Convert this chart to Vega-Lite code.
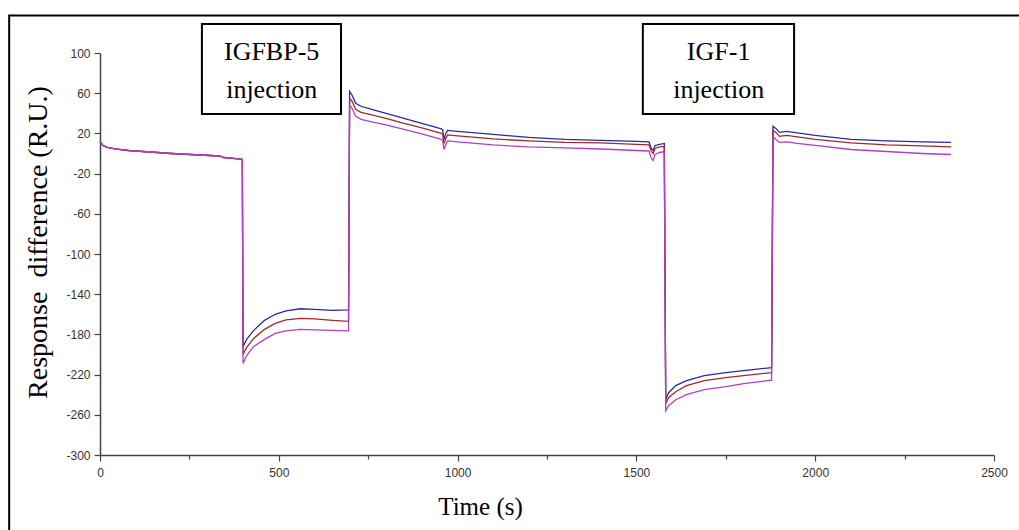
{
  "$schema": "https://vega.github.io/schema/vega-lite/v6.json",
  "width": 894,
  "height": 402,
  "autosize": {"type": "none"},
  "padding": {"left": 100, "top": 53, "right": 25, "bottom": 75},
  "background": "white",
  "view": {"stroke": null},
  "datasets": {
    "curves": [
      {"s": "a", "t": 0, "v": 12}, {"s": "a", "t": 8, "v": 8}, {"s": "a", "t": 20, "v": 6}, {"s": "a", "t": 42, "v": 4.5}, {"s": "a", "t": 80, "v": 3}, {"s": "a", "t": 140, "v": 1.5}, {"s": "a", "t": 200, "v": 0}, {"s": "a", "t": 280, "v": -1.5}, {"s": "a", "t": 335, "v": -2.5}, {"s": "a", "t": 345, "v": -4}, {"s": "a", "t": 395, "v": -5.5}, {"s": "a", "t": 398, "v": -6},
      {"s": "a", "t": 400, "v": -192}, {"s": "a", "t": 410, "v": -185}, {"s": "a", "t": 430, "v": -176}, {"s": "a", "t": 460, "v": -166}, {"s": "a", "t": 490, "v": -160}, {"s": "a", "t": 520, "v": -156.5}, {"s": "a", "t": 560, "v": -154.5}, {"s": "a", "t": 600, "v": -155}, {"s": "a", "t": 650, "v": -156}, {"s": "a", "t": 695, "v": -155.5},
      {"s": "a", "t": 698, "v": 62}, {"s": "a", "t": 705, "v": 58}, {"s": "a", "t": 715, "v": 50}, {"s": "a", "t": 730, "v": 47}, {"s": "a", "t": 760, "v": 44}, {"s": "a", "t": 800, "v": 40}, {"s": "a", "t": 850, "v": 35}, {"s": "a", "t": 900, "v": 30}, {"s": "a", "t": 950, "v": 25}, {"s": "a", "t": 958, "v": 24}, {"s": "a", "t": 962, "v": 14}, {"s": "a", "t": 967, "v": 20}, {"s": "a", "t": 972, "v": 23}, {"s": "a", "t": 1000, "v": 22}, {"s": "a", "t": 1050, "v": 20.5}, {"s": "a", "t": 1100, "v": 19}, {"s": "a", "t": 1200, "v": 16}, {"s": "a", "t": 1300, "v": 14}, {"s": "a", "t": 1400, "v": 13}, {"s": "a", "t": 1500, "v": 12}, {"s": "a", "t": 1535, "v": 11.5}, {"s": "a", "t": 1542, "v": 5}, {"s": "a", "t": 1547, "v": 3}, {"s": "a", "t": 1552, "v": 8}, {"s": "a", "t": 1565, "v": 9}, {"s": "a", "t": 1578, "v": 10},
      {"s": "a", "t": 1582, "v": -245}, {"s": "a", "t": 1590, "v": -238}, {"s": "a", "t": 1610, "v": -231}, {"s": "a", "t": 1640, "v": -226}, {"s": "a", "t": 1690, "v": -221}, {"s": "a", "t": 1750, "v": -218}, {"s": "a", "t": 1800, "v": -216}, {"s": "a", "t": 1878, "v": -213},
      {"s": "a", "t": 1882, "v": 27}, {"s": "a", "t": 1890, "v": 25}, {"s": "a", "t": 1900, "v": 21}, {"s": "a", "t": 1920, "v": 22}, {"s": "a", "t": 1950, "v": 20.5}, {"s": "a", "t": 2000, "v": 18}, {"s": "a", "t": 2100, "v": 14}, {"s": "a", "t": 2200, "v": 12.5}, {"s": "a", "t": 2300, "v": 11.5}, {"s": "a", "t": 2380, "v": 11},

      {"s": "b", "t": 0, "v": 12}, {"s": "b", "t": 8, "v": 8}, {"s": "b", "t": 20, "v": 6}, {"s": "b", "t": 42, "v": 4.5}, {"s": "b", "t": 80, "v": 3}, {"s": "b", "t": 140, "v": 1.5}, {"s": "b", "t": 200, "v": 0}, {"s": "b", "t": 280, "v": -1.5}, {"s": "b", "t": 335, "v": -2.5}, {"s": "b", "t": 345, "v": -4}, {"s": "b", "t": 395, "v": -5.5}, {"s": "b", "t": 398, "v": -6},
      {"s": "b", "t": 400, "v": -200}, {"s": "b", "t": 410, "v": -193}, {"s": "b", "t": 430, "v": -184}, {"s": "b", "t": 460, "v": -175}, {"s": "b", "t": 490, "v": -169}, {"s": "b", "t": 520, "v": -165.5}, {"s": "b", "t": 560, "v": -164}, {"s": "b", "t": 600, "v": -164.5}, {"s": "b", "t": 650, "v": -166}, {"s": "b", "t": 695, "v": -167},
      {"s": "b", "t": 698, "v": 55}, {"s": "b", "t": 705, "v": 52}, {"s": "b", "t": 715, "v": 44}, {"s": "b", "t": 730, "v": 41}, {"s": "b", "t": 760, "v": 38.5}, {"s": "b", "t": 800, "v": 35}, {"s": "b", "t": 850, "v": 30}, {"s": "b", "t": 900, "v": 25.5}, {"s": "b", "t": 950, "v": 20.5}, {"s": "b", "t": 958, "v": 19.5}, {"s": "b", "t": 962, "v": 10}, {"s": "b", "t": 967, "v": 15}, {"s": "b", "t": 972, "v": 18.5}, {"s": "b", "t": 1000, "v": 17.5}, {"s": "b", "t": 1050, "v": 16}, {"s": "b", "t": 1100, "v": 14.5}, {"s": "b", "t": 1200, "v": 12.5}, {"s": "b", "t": 1300, "v": 11}, {"s": "b", "t": 1400, "v": 10.5}, {"s": "b", "t": 1500, "v": 9}, {"s": "b", "t": 1535, "v": 8.5}, {"s": "b", "t": 1542, "v": 2}, {"s": "b", "t": 1547, "v": 0}, {"s": "b", "t": 1552, "v": 5}, {"s": "b", "t": 1565, "v": 6.5}, {"s": "b", "t": 1578, "v": 7},
      {"s": "b", "t": 1582, "v": -249}, {"s": "b", "t": 1590, "v": -243}, {"s": "b", "t": 1610, "v": -237}, {"s": "b", "t": 1640, "v": -231}, {"s": "b", "t": 1690, "v": -226}, {"s": "b", "t": 1750, "v": -223}, {"s": "b", "t": 1800, "v": -221}, {"s": "b", "t": 1878, "v": -218},
      {"s": "b", "t": 1882, "v": 23}, {"s": "b", "t": 1890, "v": 21}, {"s": "b", "t": 1900, "v": 17}, {"s": "b", "t": 1920, "v": 18}, {"s": "b", "t": 1950, "v": 16.5}, {"s": "b", "t": 2000, "v": 14}, {"s": "b", "t": 2100, "v": 10.5}, {"s": "b", "t": 2200, "v": 8.5}, {"s": "b", "t": 2300, "v": 7.5}, {"s": "b", "t": 2380, "v": 6.5},

      {"s": "c", "t": 0, "v": 12}, {"s": "c", "t": 8, "v": 8}, {"s": "c", "t": 20, "v": 6}, {"s": "c", "t": 42, "v": 4.5}, {"s": "c", "t": 80, "v": 3}, {"s": "c", "t": 140, "v": 1.5}, {"s": "c", "t": 200, "v": 0}, {"s": "c", "t": 280, "v": -1.5}, {"s": "c", "t": 335, "v": -2.5}, {"s": "c", "t": 345, "v": -4}, {"s": "c", "t": 395, "v": -5.5}, {"s": "c", "t": 398, "v": -6},
      {"s": "c", "t": 400, "v": -209}, {"s": "c", "t": 405, "v": -205}, {"s": "c", "t": 410, "v": -201}, {"s": "c", "t": 430, "v": -192}, {"s": "c", "t": 460, "v": -185}, {"s": "c", "t": 490, "v": -179}, {"s": "c", "t": 520, "v": -176.5}, {"s": "c", "t": 560, "v": -175}, {"s": "c", "t": 600, "v": -175.5}, {"s": "c", "t": 650, "v": -176}, {"s": "c", "t": 695, "v": -176.5},
      {"s": "c", "t": 698, "v": 48}, {"s": "c", "t": 705, "v": 45}, {"s": "c", "t": 715, "v": 37}, {"s": "c", "t": 730, "v": 34}, {"s": "c", "t": 760, "v": 31.5}, {"s": "c", "t": 800, "v": 28.5}, {"s": "c", "t": 850, "v": 24}, {"s": "c", "t": 900, "v": 19.5}, {"s": "c", "t": 950, "v": 14.5}, {"s": "c", "t": 958, "v": 13.5}, {"s": "c", "t": 962, "v": 4}, {"s": "c", "t": 967, "v": 9}, {"s": "c", "t": 972, "v": 12.5}, {"s": "c", "t": 1000, "v": 11.5}, {"s": "c", "t": 1050, "v": 10}, {"s": "c", "t": 1100, "v": 8.5}, {"s": "c", "t": 1200, "v": 6.5}, {"s": "c", "t": 1300, "v": 5.5}, {"s": "c", "t": 1400, "v": 4.5}, {"s": "c", "t": 1500, "v": 3}, {"s": "c", "t": 1535, "v": 2.5}, {"s": "c", "t": 1542, "v": -5}, {"s": "c", "t": 1547, "v": -7}, {"s": "c", "t": 1552, "v": -1}, {"s": "c", "t": 1565, "v": 1}, {"s": "c", "t": 1578, "v": 2},
      {"s": "c", "t": 1582, "v": -256}, {"s": "c", "t": 1590, "v": -251}, {"s": "c", "t": 1610, "v": -245}, {"s": "c", "t": 1640, "v": -240}, {"s": "c", "t": 1690, "v": -235}, {"s": "c", "t": 1750, "v": -232}, {"s": "c", "t": 1800, "v": -229}, {"s": "c", "t": 1878, "v": -225.5},
      {"s": "c", "t": 1882, "v": 17}, {"s": "c", "t": 1890, "v": 14}, {"s": "c", "t": 1900, "v": 11}, {"s": "c", "t": 1920, "v": 11.5}, {"s": "c", "t": 1950, "v": 10}, {"s": "c", "t": 2000, "v": 8}, {"s": "c", "t": 2100, "v": 4}, {"s": "c", "t": 2200, "v": 2}, {"s": "c", "t": 2300, "v": 0}, {"s": "c", "t": 2380, "v": -1}
    ],
    "frame": [{"x1": -254, "x2": 2600, "y1": 137.3, "y2": -390}],
    "boxes": [
      {"x1": 285, "x2": 674, "y1": 128.9, "y2": 39.3},
      {"x1": 1518, "x2": 1941, "y1": 128.9, "y2": 39.3}
    ],
    "labels": [
      {"x": 480, "y": 101, "label": "IGFBP-5"},
      {"x": 480, "y": 63, "label": "injection"},
      {"x": 1730, "y": 101, "label": "IGF-1"},
      {"x": 1730, "y": 63, "label": "injection"}
    ]
  },
  "layer": [
    {
      "data": {"name": "frame"},
      "mark": {"type": "rect", "fill": null, "stroke": "black", "strokeWidth": 2, "clip": false},
      "encoding": {
        "x": {"field": "x1", "type": "quantitative", "scale": {"domain": [0, 2500], "nice": false, "zero": false}},
        "x2": {"field": "x2"},
        "y": {"field": "y1", "type": "quantitative", "scale": {"domain": [-300, 100], "nice": false, "zero": false}},
        "y2": {"field": "y2"}
      }
    },
    {
      "data": {"name": "boxes"},
      "mark": {"type": "rect", "fill": "white", "stroke": "black", "strokeWidth": 2, "clip": false},
      "encoding": {
        "x": {"field": "x1", "type": "quantitative"},
        "x2": {"field": "x2"},
        "y": {"field": "y1", "type": "quantitative"},
        "y2": {"field": "y2"}
      }
    },
    {
      "data": {"name": "labels"},
      "mark": {"type": "text", "font": "Liberation Serif", "fontSize": 26, "color": "black", "baseline": "middle", "align": "center"},
      "encoding": {
        "x": {"field": "x", "type": "quantitative"},
        "y": {"field": "y", "type": "quantitative"},
        "text": {"field": "label"}
      }
    },
    {
      "data": {"name": "curves"},
      "mark": {"type": "line", "strokeWidth": 1.3, "clip": false},
      "encoding": {
        "x": {
          "field": "t", "type": "quantitative",
          "axis": {
            "title": "Time (s)",
            "values": [0, 250, 500, 750, 1000, 1250, 1500, 1750, 2000, 2250, 2500],
            "labelExpr": "datum.value % 500 === 0 ? '' + datum.value : ''",
            "tickSize": {"condition": {"test": "datum.value % 500 === 0", "value": 6}, "value": 4},
            "labelFont": "Liberation Sans", "labelFontSize": 12, "labelColor": "#333",
            "labelPadding": 6, "labelFlush": false,
            "domainColor": "#444", "domainWidth": 1.5, "tickColor": "#444", "tickWidth": 1.2,
            "grid": false,
            "titleFont": "Liberation Serif", "titleFontSize": 25, "titleFontWeight": "normal", "titleColor": "black",
            "titleX": 380, "titleY": 51, "titleBaseline": "middle", "titleAlign": "center"
          }
        },
        "y": {
          "field": "v", "type": "quantitative",
          "axis": {
            "title": "Response\u00a0 difference (R.U.)",
            "values": [-300, -280, -260, -240, -220, -200, -180, -160, -140, -120, -100, -80, -60, -40, -20, 0, 20, 40, 60, 80, 100],
            "labelExpr": "(datum.value + 300) % 40 === 0 ? '' + datum.value : ''",
            "tickSize": {"condition": {"test": "(datum.value + 300) % 40 === 0", "value": 6}, "value": 4},
            "labelFont": "Liberation Sans", "labelFontSize": 12, "labelColor": "#333",
            "labelPadding": 4,
            "domainColor": "#444", "domainWidth": 1.5, "tickColor": "#444", "tickWidth": 1.2,
            "grid": false,
            "titleFont": "Liberation Serif", "titleFontSize": 28, "titleFontWeight": "normal", "titleColor": "black",
            "titleX": -62, "titleY": 189, "titleBaseline": "middle", "titleAlign": "center", "titleAngle": 270
          }
        },
        "color": {
          "field": "s", "type": "nominal", "legend": null,
          "scale": {"domain": ["a", "b", "c"], "range": ["#2a2aa8", "#a02a2a", "#b040c0"]}
        },
        "order": {"field": "t", "type": "quantitative"}
      }
    }
  ]
}
